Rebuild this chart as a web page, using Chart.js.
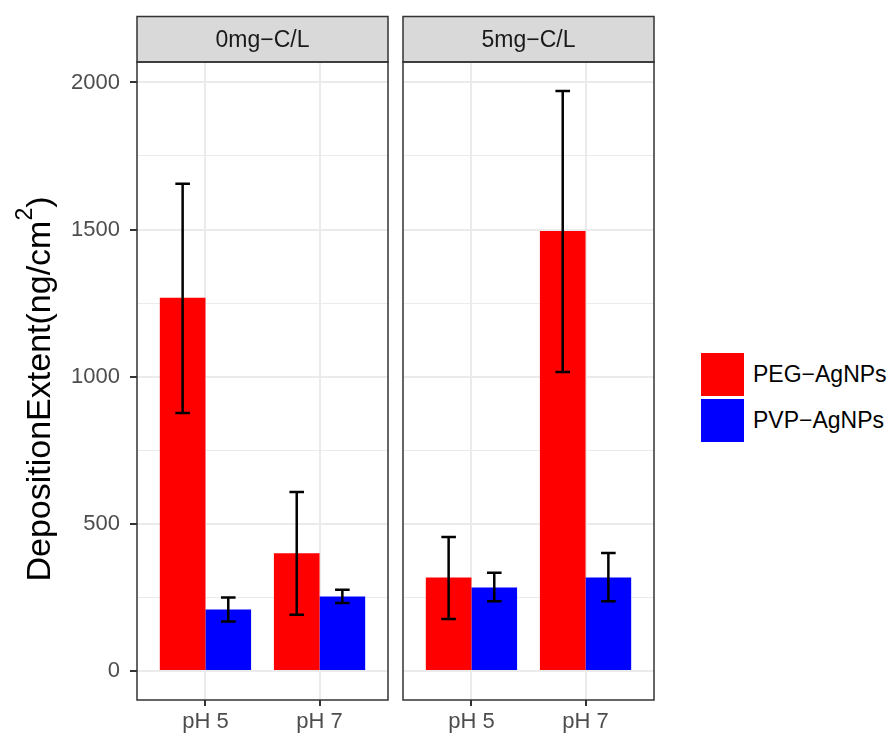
<!DOCTYPE html>
<html>
<head>
<meta charset="utf-8">
<script src="https://cdn.jsdelivr.net/npm/chart.js@4.4.1/dist/chart.umd.min.js"></script>
<style>
body { margin: 0; background: #ffffff; }
#cadre { position: relative; width: 896px; height: 738px; font-family: "Liberation Sans", Arial, sans-serif; }
#cadre canvas { position: absolute; top: 0; }
#legende { position: absolute; left: 701px; top: 353px; }
.cle { display: flex; align-items: center; height: 43px; margin-bottom: 3px; font-size: 23px; color: #000000; }
.carre { width: 43px; height: 43px; margin-right: 9px; }
</style>
</head>
<body>
<div id="cadre">
    <canvas id="facette0" width="395" height="738" style="left:0px"></canvas>
    <canvas id="facette1" width="270" height="738" style="left:395px"></canvas>
    <div id="legende"></div>
</div>
<script>
/********************/
/* Données globales */
/********************/
var categories = ['pH 5', 'pH 7'];
var facettes = ['0mg\u2212C/L', '5mg\u2212C/L'];
var series = ['PEG\u2212AgNPs', 'PVP\u2212AgNPs'];
var couleurs = ['#ff0000', '#0000ff'];

//Moyennes (ng/cm2)
var peg0mg = [1268, 400];
var pvp0mg = [209, 253];
var peg5mg = [318, 1495];
var pvp5mg = [284, 318];

//Bornes des barres d'erreur
var peg0mgHaut = [1656, 608];
var peg0mgBas = [877, 191];
var pvp0mgHaut = [250, 276];
var pvp0mgBas = [168, 231];
var peg5mgHaut = [455, 1971];
var peg5mgBas = [177, 1016];
var pvp5mgHaut = [334, 401];
var pvp5mgBas = [237, 237];

//Axe Y
var yGraduations = [0, 500, 1000, 1500, 2000];
var ySecondaires = [250, 750, 1250, 1750];
var yMin = -98.5;
var yMax = 2069.5;

var police = '"Liberation Sans", Arial, sans-serif';

/***********/
/* Plugins */
/***********/

//Bandeau gris au-dessus de chaque facette
function pluginBandeau(texte) {
    return {
        id: 'bandeau',
        afterDraw: function(chart) {
            var ctx = chart.ctx;
            var zone = chart.chartArea;
            ctx.save();
            ctx.fillStyle = '#d9d9d9';
            ctx.fillRect(zone.left, 16.5, zone.right - zone.left, zone.top - 16.5);
            ctx.strokeStyle = '#333333';
            ctx.lineWidth = 1.5;
            ctx.strokeRect(zone.left, 16.5, zone.right - zone.left, zone.top - 16.5);
            ctx.fillStyle = '#1a1a1a';
            ctx.font = '23px ' + police;
            ctx.textAlign = 'center';
            ctx.textBaseline = 'middle';
            ctx.fillText(texte, (zone.left + zone.right) / 2, (16.5 + zone.top) / 2 + 1);
            //Cadre du panneau
            ctx.lineWidth = 1.5;
            ctx.strokeRect(zone.left, zone.top, zone.right - zone.left, zone.bottom - zone.top);
            ctx.restore();
        }
    };
}

//Barres d'erreur (bornes stockées dans chaque dataset)
var pluginErreurs = {
    id: 'erreurs',
    afterDatasetsDraw: function(chart) {
        var ctx = chart.ctx;
        var axeY = chart.scales.y;
        ctx.save();
        ctx.strokeStyle = '#000000';
        ctx.lineWidth = 2.5;
        chart.data.datasets.forEach(function(dataset, i) {
            var meta = chart.getDatasetMeta(i);
            meta.data.forEach(function(barre, j) {
                var x = barre.x;
                var yHaut = axeY.getPixelForValue(dataset.hauts[j]);
                var yBas = axeY.getPixelForValue(dataset.bas[j]);
                ctx.beginPath();
                ctx.moveTo(x, yHaut);
                ctx.lineTo(x, yBas);
                ctx.moveTo(x - 7.3, yHaut);
                ctx.lineTo(x + 7.3, yHaut);
                ctx.moveTo(x - 7.3, yBas);
                ctx.lineTo(x + 7.3, yBas);
                ctx.stroke();
            });
        });
        ctx.restore();
    }
};

//Titre de l'axe Y avec exposant
var pluginTitreY = {
    id: 'titreY',
    afterDraw: function(chart) {
        var ctx = chart.ctx;
        var principal = 'DepositionExtent(ng/cm';
        var exposant = '2';
        var fin = ')';
        ctx.save();
        ctx.translate(50, 389);
        ctx.rotate(-Math.PI / 2);
        ctx.fillStyle = '#000000';
        ctx.textBaseline = 'alphabetic';
        ctx.textAlign = 'left';
        ctx.font = '34px ' + police;
        var l1 = ctx.measureText(principal).width;
        var l3 = ctx.measureText(fin).width;
        ctx.font = '23px ' + police;
        var l2 = ctx.measureText(exposant).width;
        var depart = -(l1 + l2 + l3) / 2;
        ctx.font = '34px ' + police;
        ctx.fillText(principal, depart, 0);
        ctx.fillText(fin, depart + l1 + l2, 0);
        ctx.font = '23px ' + police;
        ctx.fillText(exposant, depart + l1, -18);
        ctx.restore();
    }
};

/***************************/
/* Création d'une facette */
/***************************/
function creerFacette(idCanvas, titre, valeursPEG, valeursPVP, erreurs, avecAxeY, marges) {
    var yToutes = yGraduations.concat(ySecondaires).sort(function(a, b) { return a - b; });

    function points(valeurs) {
        return valeurs.map(function(v, i) { return { x: i + 1, y: v }; });
    }

    var plugins = [pluginBandeau(titre), pluginErreurs];
    if (avecAxeY) plugins.push(pluginTitreY);

    var ctx = document.getElementById(idCanvas).getContext('2d');
    return new Chart(ctx, {
        type: 'bar',
        data: {
            datasets: [{
                label: series[0],
                data: points(valeursPEG),
                backgroundColor: couleurs[0],
                hauts: erreurs[0],
                bas: erreurs[1]
            }, {
                label: series[1],
                data: points(valeursPVP),
                backgroundColor: couleurs[1],
                hauts: erreurs[2],
                bas: erreurs[3]
            }]
        },
        options: {
            responsive: false,
            animation: false,
            categoryPercentage: 0.8,
            barPercentage: 1.0,
            layout: { padding: marges },
            plugins: {
                legend: { display: false },
                tooltip: { enabled: false }
            },
            scales: {
                x: {
                    type: 'linear',
                    offset: false,
                    min: 0.4,
                    max: 2.6,
                    afterBuildTicks: function(axe) {
                        axe.ticks = categories.map(function(c, i) { return { value: i + 1 }; });
                    },
                    afterFit: function(axe) { axe.height = 38; },
                    ticks: {
                        callback: function(v) { return categories[Math.round(v) - 1] || ''; },
                        font: { size: 22, family: police },
                        color: '#4d4d4d',
                        padding: 3,
                        maxRotation: 0,
                        autoSkip: false
                    },
                    grid: { offset: false, color: '#ebebeb', lineWidth: 2, tickColor: '#333333', tickLength: 6, tickWidth: 2 },
                    border: { display: false }
                },
                y: {
                    min: yMin,
                    max: yMax,
                    afterBuildTicks: function(axe) {
                        axe.ticks = yToutes.map(function(v) { return { value: v }; });
                    },
                    afterFit: function(axe) { axe.width = avecAxeY ? 137 : 0; },
                    ticks: {
                        display: avecAxeY,
                        callback: function(v) { return yGraduations.indexOf(v) >= 0 ? String(v) : ''; },
                        font: { size: 22, family: police },
                        color: '#4d4d4d',
                        padding: 10
                    },
                    grid: {
                        color: '#ebebeb',
                        lineWidth: function(c) { return yGraduations.indexOf(c.tick.value) >= 0 ? 2 : 1.1; },
                        tickColor: function(c) { return yGraduations.indexOf(c.tick.value) >= 0 ? '#333333' : 'rgba(0,0,0,0)'; },
                        drawTicks: avecAxeY,
                        tickLength: 7,
                        tickWidth: 2
                    },
                    border: { display: false }
                }
            }
        },
        plugins: plugins
    });
}

creerFacette('facette0', facettes[0], peg0mg, pvp0mg,
    [peg0mgHaut, peg0mgBas, pvp0mgHaut, pvp0mgBas], true,
    { top: 62, right: 7, bottom: 0, left: 0 });
creerFacette('facette1', facettes[1], peg5mg, pvp5mg,
    [peg5mgHaut, peg5mgBas, pvp5mgHaut, pvp5mgBas], false,
    { top: 62, right: 11, bottom: 0, left: 8 });

/***********/
/* Légende */
/***********/
var legende = document.getElementById('legende');
series.forEach(function(nom, i) {
    var ligne = document.createElement('div');
    ligne.className = 'cle';
    var carre = document.createElement('div');
    carre.className = 'carre';
    carre.style.background = couleurs[i];
    var texte = document.createElement('span');
    texte.textContent = nom;
    ligne.appendChild(carre);
    ligne.appendChild(texte);
    legende.appendChild(ligne);
});
</script>
</body>
</html>
